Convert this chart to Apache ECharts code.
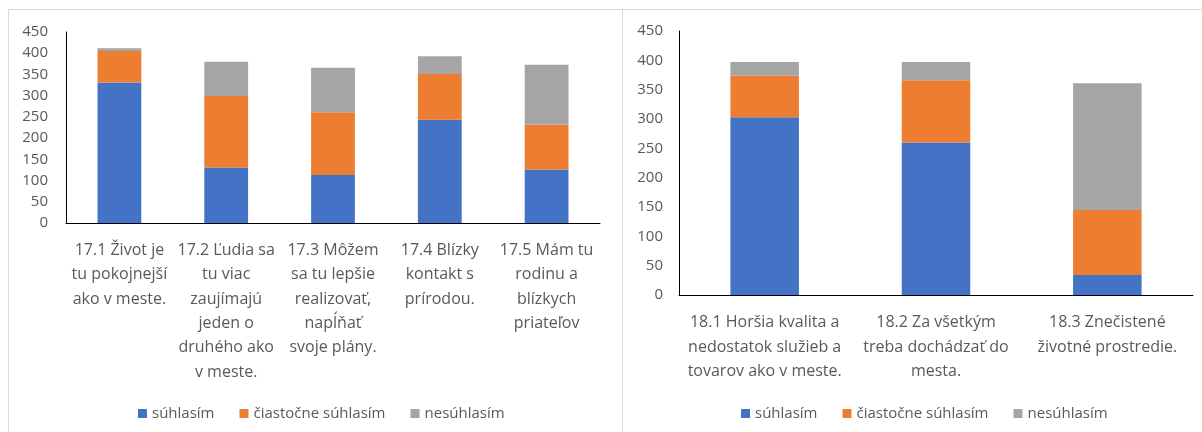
<!DOCTYPE html>
<html>
<head>
<meta charset="utf-8">
<script src="https://cdn.jsdelivr.net/npm/echarts@6/dist/echarts.min.js"></script>
<style>
html,body{margin:0;padding:0;background:#fff;}
#chart{width:1202px;height:432px;}
</style>
</head>
<body>
<div id="chart"></div>
<script>
// ---- data ----
var seriesNames = ['súhlasím', 'čiastočne súhlasím', 'nesúhlasím'];

var categories17 = [
  '17.1 Život je\ntu pokojnejší\nako v meste.',
  '17.2 Ľudia sa\ntu viac\nzaujímajú\njeden o\ndruhého ako\nv meste.',
  '17.3 Môžem\nsa tu lepšie\nrealizovať,\nnapĺňať\nsvoje plány.',
  '17.4 Blízky\nkontakt s\nprírodou.',
  '17.5 Mám tu\nrodinu a\nblízkych\npriateľov'
];
var agree17   = [331, 131, 113, 243, 126];
var partly17  = [74, 168, 148, 108, 106];
var disagree17 = [7, 81, 105, 42, 141];

var categories18 = [
  '18.1 Horšia kvalita a\nnedostatok služieb a\ntovarov ako v meste.',
  '18.2 Za všetkým\ntreba dochádzať do\nmesta.',
  '18.3 Znečistené\nživotné prostredie.'
];
var agree18   = [303, 260, 34];
var partly18  = [71, 106, 111];
var disagree18 = [23, 31, 216];

var yTicks = [0, 50, 100, 150, 200, 250, 300, 350, 400, 450];

// ---- styles ----
var colors = ['#4472C4', '#ED7D31', '#A5A5A5'];
var txt = '#595959';
var font = 'Open Sans';

function yAxis(gridIndex, margin) {
  return {
    type: 'value', gridIndex: gridIndex,
    min: yTicks[0], max: yTicks[yTicks.length - 1], interval: yTicks[1] - yTicks[0],
    axisLine: {show: true, lineStyle: {color: '#000', width: 1}},
    axisTick: {show: false},
    splitLine: {show: false},
    axisLabel: {color: txt, fontFamily: font, fontSize: 15, margin: margin}
  };
}
function xAxis(gridIndex, cats, margin) {
  return {
    type: 'category', gridIndex: gridIndex, data: cats,
    axisLine: {show: true, lineStyle: {color: '#000', width: 1}},
    axisTick: {show: false},
    axisLabel: {color: txt, fontFamily: font, fontSize: 16, lineHeight: 24.4,
                margin: margin, interval: 0, align: 'center'}
  };
}
function bars(gridIndex, stack, arrs, width) {
  return arrs.map(function (d, i) {
    return {
      name: seriesNames[i], type: 'bar', stack: stack,
      xAxisIndex: gridIndex, yAxisIndex: gridIndex,
      data: d, barWidth: width,
      itemStyle: {color: colors[i]},
      emphasis: {disabled: true}
    };
  });
}
function legend(left) {
  return {
    data: seriesNames, left: left, top: 401,
    itemWidth: 9, itemHeight: 9, itemGap: 25, icon: 'rect',
    textStyle: {color: txt, fontFamily: font, fontSize: 15},
    selectedMode: false
  };
}

var chart = echarts.init(document.getElementById('chart'), null, {renderer: 'canvas'});
chart.setOption({
  animation: false,
  backgroundColor: '#fff',
  color: colors,
  grid: [
    {left: 66, top: 32, width: 534, height: 191},
    {left: 679, top: 31, width: 514, height: 264}
  ],
  xAxis: [xAxis(0, categories17, 15), xAxis(1, categories18, 15.5)],
  yAxis: [yAxis(0, 18), yAxis(1, 16)],
  legend: [legend(133), legend(736)],
  series: [].concat(
    bars(0, 's17', [agree17, partly17, disagree17], '41%'),
    bars(1, 's18', [agree18, partly18, disagree18], '40%')
  ),
  graphic: [
    {type: 'line', shape: {x1: 8, y1: 9.5, x2: 1202, y2: 9.5}, style: {stroke: '#D9D9D9', lineWidth: 1}},
    {type: 'line', shape: {x1: 8.5, y1: 9.5, x2: 8.5, y2: 432}, style: {stroke: '#D9D9D9', lineWidth: 1}},
    {type: 'line', shape: {x1: 622.5, y1: 9.5, x2: 622.5, y2: 432}, style: {stroke: '#D9D9D9', lineWidth: 1}}
  ]
});
</script>
</body>
</html>
